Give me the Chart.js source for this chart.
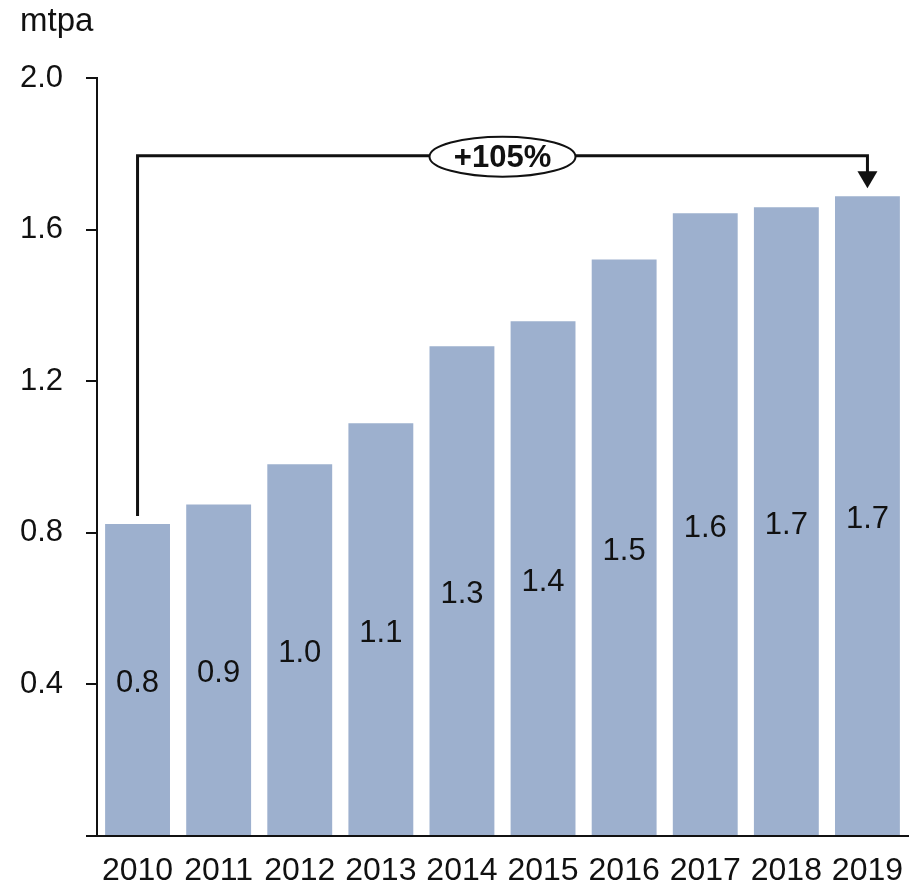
<!DOCTYPE html>
<html>
<head>
<meta charset="utf-8">
<script src="https://cdn.jsdelivr.net/npm/chart.js@4"></script>
<style>
  html, body { margin: 0; padding: 0; background: #fff; }
  #wrap { width: 919px; height: 882px; }
</style>
</head>
<body>
<div id="wrap"><canvas id="volChart" width="919" height="882"></canvas></div>
<script>
// Data
const years = ["2010", "2011", "2012", "2013", "2014", "2015", "2016", "2017", "2018", "2019"];
const volumes = [0.823, 0.875, 0.981, 1.089, 1.292, 1.358, 1.521, 1.643, 1.659, 1.688];
const volumeLabels = ["0.8", "0.9", "1.0", "1.1", "1.3", "1.4", "1.5", "1.6", "1.7", "1.7"];
const yTicks = [0, 0.4, 0.8, 1.2, 1.6, 2.0];
const growthText = "+105%";
const unitText = "mtpa";

const FONT = "'Liberation Sans', Arial, sans-serif";
const INK = "#111";

// labels inside bars + bracket arrow + unit
const extras = {
  id: "extras",
  afterDatasetsDraw(chart) {
    const ctx = chart.ctx;
    const bars = chart.getDatasetMeta(0).data;
    const y = chart.scales.y;

    ctx.save();
    ctx.fillStyle = INK;
    ctx.font = "31px " + FONT;
    ctx.textAlign = "center";
    ctx.textBaseline = "middle";
    bars.forEach((bar, i) => {
      ctx.fillText(volumeLabels[i], bar.x, (bar.y + bar.base) / 2 + 4);
    });

    // bracket from first bar to last bar
    const first = bars[0], last = bars[bars.length - 1];
    const topY = y.getPixelForValue(1.795);
    const tipY = last.y - 8;
    ctx.strokeStyle = INK;
    ctx.lineWidth = 3;
    ctx.beginPath();
    ctx.moveTo(first.x, first.y - 8);
    ctx.lineTo(first.x, topY);
    ctx.lineTo(last.x, topY);
    ctx.lineTo(last.x, tipY - 15);
    ctx.stroke();
    ctx.beginPath();
    ctx.moveTo(last.x - 10, tipY - 17);
    ctx.lineTo(last.x + 10, tipY - 17);
    ctx.lineTo(last.x, tipY);
    ctx.closePath();
    ctx.fill();

    // ellipse badge
    const cx = (first.x + last.x) / 2;
    ctx.beginPath();
    ctx.ellipse(cx, topY + 1, 73, 20, 0, 0, Math.PI * 2);
    ctx.fillStyle = "#fff";
    ctx.fill();
    ctx.lineWidth = 2;
    ctx.stroke();
    ctx.fillStyle = INK;
    ctx.font = "bold 31px " + FONT;
    ctx.fillText(growthText, cx, topY + 3);

    // unit label
    ctx.textAlign = "left";
    ctx.font = "33px " + FONT;
    ctx.fillText(unitText, 20, 22);
    ctx.restore();
  }
};

const ctx = document.getElementById("volChart").getContext("2d");
const volChart = new Chart(ctx, {
  type: "bar",
  data: {
    labels: years,
    datasets: [{
      data: volumes,
      backgroundColor: "#9db0ce",
      borderWidth: 0,
      categoryPercentage: 0.8,
      barPercentage: 1.0
    }]
  },
  options: {
    responsive: false,
    animation: false,
    events: [],
    layout: { padding: { top: 78, right: 11, bottom: 0, left: 0 } },
    plugins: { legend: { display: false }, tooltip: { enabled: false } },
    scales: {
      x: {
        grid: { display: false },
        border: { display: true, color: INK, width: 2 },
        ticks: { color: INK, font: { family: FONT, size: 32 }, padding: 8, maxRotation: 0, autoSkip: false },
        afterFit(scale) { scale.height = 46; }
      },
      y: {
        min: 0,
        max: 2.0,
        afterBuildTicks(scale) { scale.ticks = yTicks.map(v => ({ value: v })); },
        grid: { drawOnChartArea: false, drawTicks: true, tickLength: 11, color: INK, lineWidth: 2 },
        border: { display: true, color: INK, width: 2 },
        ticks: {
          color: INK,
          font: { family: FONT, size: 31 },
          padding: 23,
          callback: v => (v === 0 ? "" : v.toFixed(1))
        },
        afterFit(scale) { scale.width = 97; }
      }
    }
  },
  plugins: [extras]
});
</script>
</body>
</html>
